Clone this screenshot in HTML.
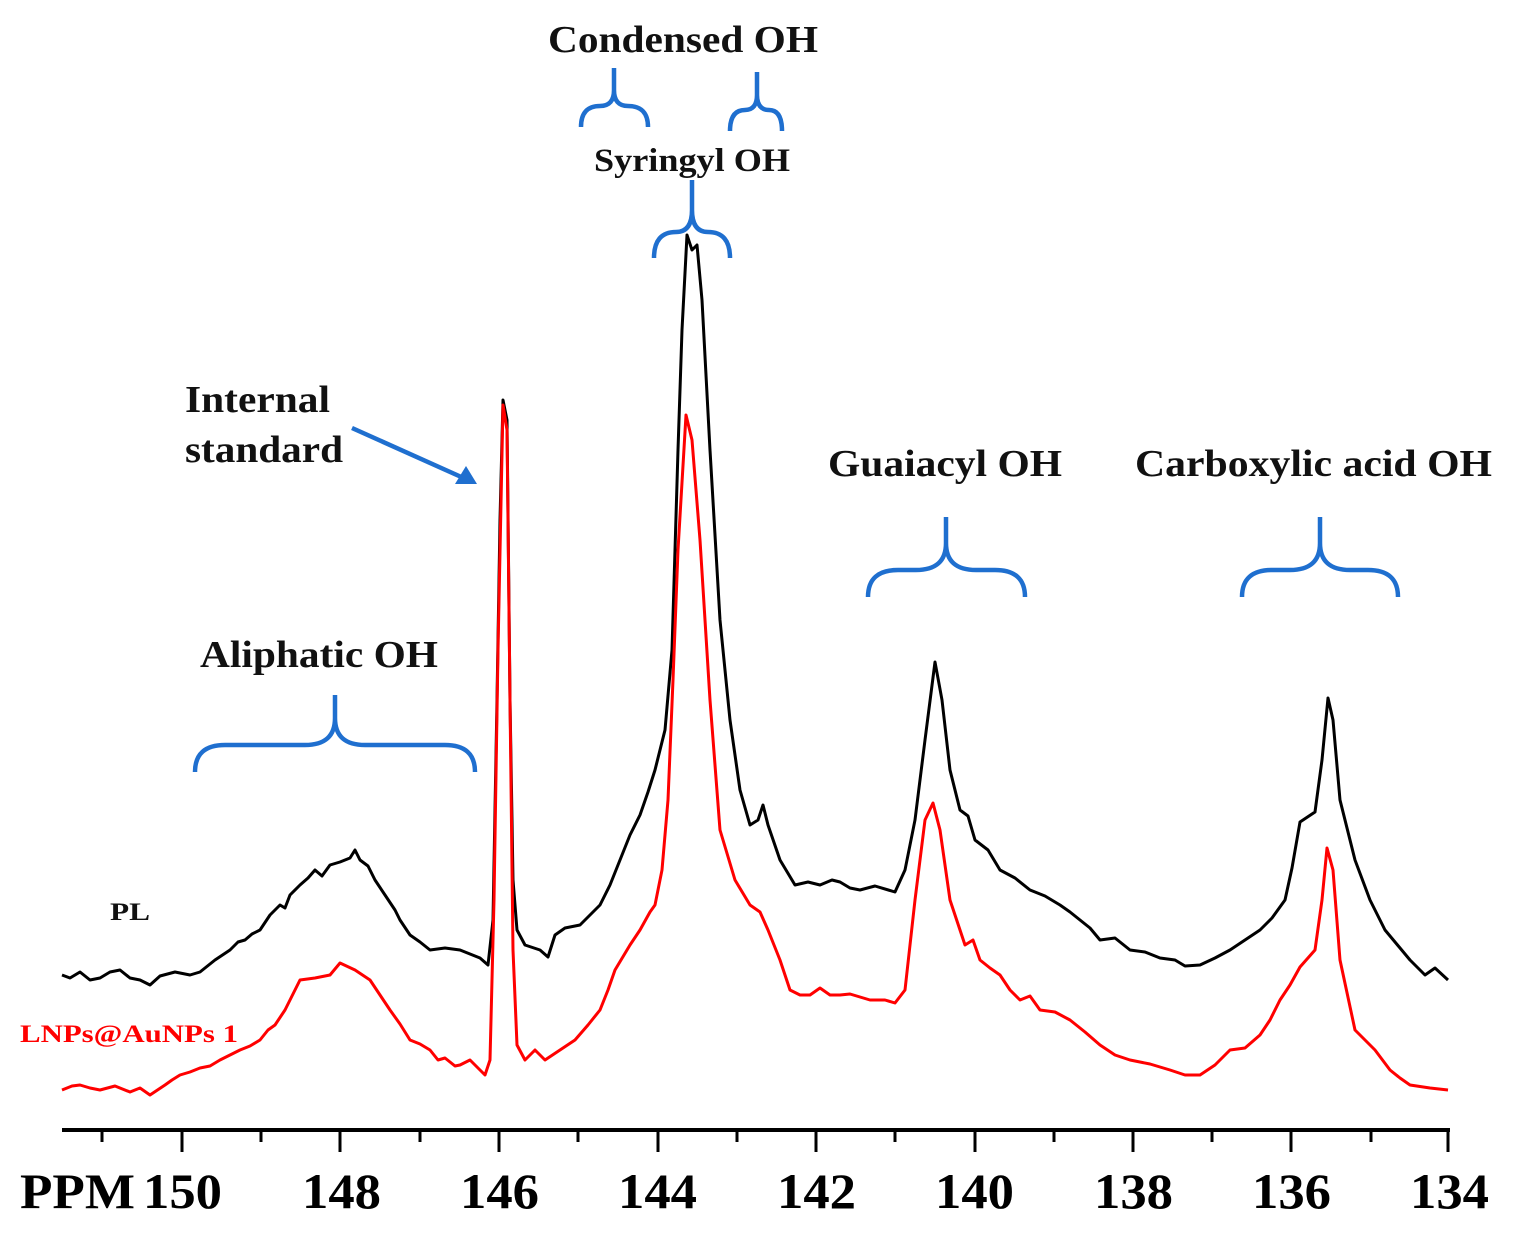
<!DOCTYPE html>
<html><head><meta charset="utf-8"><style>body{margin:0;background:#fff}svg{display:block}</style></head><body>
<svg width="1525" height="1240" viewBox="0 0 1525 1240" xmlns="http://www.w3.org/2000/svg" font-family="Liberation Serif, serif" font-weight="bold">
<g fill="none" stroke-linejoin="round">
<polyline stroke="#000" stroke-width="3" points="62,975 70,978 80,972 90,980 100,978 110,972 120,970 130,978 140,980 150,985 160,976 175,972 190,975 200,972 215,960 230,950 238,942 245,940 252,934 260,930 270,915 280,905 285,908 290,895 300,885 308,878 315,870 322,876 330,865 340,862 350,858 355,850 360,860 368,866 375,880 385,895 395,910 400,920 410,935 420,942 430,950 445,948 460,950 470,954 480,958 488,965 493,920 497,700 500,520 503,400 507,420 510,700 513,880 517,930 525,945 540,950 548,957 555,935 565,928 580,925 590,915 600,905 610,885 620,860 630,835 640,815 648,792 655,770 665,730 672,650 678,450 682,330 687,235 692,250 697,245 702,300 710,450 720,620 730,720 740,790 750,825 758,820 763,805 768,825 780,860 795,885 808,882 820,885 832,880 840,882 850,888 860,890 875,886 895,892 905,870 915,820 925,740 935,662 942,700 950,770 960,810 968,816 975,840 988,850 1000,870 1015,878 1030,890 1045,896 1060,905 1070,912 1080,920 1090,928 1100,940 1115,938 1130,950 1145,952 1160,958 1175,960 1185,966 1200,965 1215,958 1230,950 1245,940 1260,930 1272,918 1285,900 1292,868 1300,822 1315,812 1322,760 1328,698 1333,720 1340,800 1355,860 1370,900 1385,930 1395,942 1410,960 1425,975 1435,968 1448,980"/>
<polyline stroke="#f00" stroke-width="3" points="62,1090 72,1086 80,1085 90,1088 100,1090 115,1086 130,1092 140,1088 150,1095 165,1085 172,1080 180,1075 190,1072 200,1068 210,1066 220,1060 240,1050 250,1046 260,1040 268,1030 275,1025 285,1010 300,980 315,978 330,975 340,963 355,970 370,980 380,995 390,1010 400,1024 410,1040 420,1044 430,1050 438,1060 445,1058 455,1066 460,1065 470,1060 485,1075 490,1060 494,900 498,650 503,405 507,430 510,700 513,950 517,1045 525,1060 535,1050 545,1060 560,1050 575,1040 588,1025 600,1010 608,990 615,970 630,945 640,930 650,912 655,905 662,870 668,800 673,680 678,550 686,415 692,440 700,540 710,700 720,830 735,880 750,905 760,912 768,930 780,960 790,990 800,995 810,995 820,988 830,995 840,995 850,994 870,1000 885,1000 895,1003 905,990 915,900 925,820 933,803 940,830 950,900 965,945 973,940 980,960 990,968 1000,975 1010,990 1020,1000 1030,996 1040,1010 1055,1012 1070,1020 1085,1032 1100,1045 1115,1055 1130,1060 1150,1064 1170,1070 1185,1075 1200,1075 1215,1065 1230,1050 1245,1048 1260,1035 1270,1020 1280,1000 1290,985 1300,967 1315,950 1322,900 1327,848 1333,870 1340,960 1355,1030 1375,1050 1390,1070 1400,1078 1410,1085 1430,1088 1448,1090"/>
<g stroke="#1f6fcf" stroke-width="4.5">
<path d="M195,772 Q195,745 225,745 L305,745 Q335,745 335,718 L335,695 M335,718 Q335,745 365,745 L445,745 Q475,745 475,772"/>
<path d="M868,597 Q868,570 898,570 L916,570 Q946,570 946,543 L946,517 M946,543 Q946,570 976,570 L995,570 Q1025,570 1025,597"/>
<path d="M1242,597 Q1242,570 1272,570 L1290,570 Q1320,570 1320,543 L1320,517 M1320,543 Q1320,570 1350,570 L1368,570 Q1398,570 1398,597"/>
<path d="M654,258 Q654,232 676,232 Q692,232 692,210 L692,180 M692,210 Q692,232 708,232 Q730,232 730,258"/>
<path d="M581,127 Q581,106 600,106 Q614,106 614,90 L614,68 M614,90 Q614,106 628,106 Q648,106 648,127"/>
<path d="M730,131 Q730,110 745,110 Q757,110 757,95 L757,72 M757,95 Q757,110 769,110 Q782,110 782,131"/>
<path d="M352,428 L468,480"/>
</g>
<polygon fill="#1f6fcf" points="477,484 455,484 466,466"/>
<line x1="62" y1="1130" x2="1450" y2="1130" stroke="#000" stroke-width="4"/>
</g>
<g stroke="#000" stroke-width="3">
<path d="M102,1130v12M182,1130v22M261,1130v12M340,1130v22M420,1130v12M499,1130v22M578,1130v12M658,1130v22M737,1130v12M816,1130v22M895,1130v12M975,1130v22M1054,1130v12M1133,1130v22M1212,1130v12M1291,1130v22M1371,1130v12M1448,1130v22"/>
</g>
<g font-size="50" fill="#000" lengthAdjust="spacingAndGlyphs">
<text x="20" y="1208" textLength="115" lengthAdjust="spacingAndGlyphs">PPM</text>
<text x="143" y="1208" textLength="79" lengthAdjust="spacingAndGlyphs">150</text>
<text x="302" y="1208" textLength="79" lengthAdjust="spacingAndGlyphs">148</text>
<text x="460" y="1208" textLength="79" lengthAdjust="spacingAndGlyphs">146</text>
<text x="618" y="1208" textLength="79" lengthAdjust="spacingAndGlyphs">144</text>
<text x="777" y="1208" textLength="79" lengthAdjust="spacingAndGlyphs">142</text>
<text x="935" y="1208" textLength="79" lengthAdjust="spacingAndGlyphs">140</text>
<text x="1094" y="1208" textLength="79" lengthAdjust="spacingAndGlyphs">138</text>
<text x="1252" y="1208" textLength="79" lengthAdjust="spacingAndGlyphs">136</text>
<text x="1410" y="1208" textLength="79" lengthAdjust="spacingAndGlyphs">134</text>
</g>
<g font-size="38" fill="#111">
<text x="548" y="52" textLength="270" lengthAdjust="spacingAndGlyphs">Condensed OH</text>
<text x="594" y="171" font-size="33" textLength="196" lengthAdjust="spacingAndGlyphs">Syringyl OH</text>
<text x="185" y="412" textLength="145" lengthAdjust="spacingAndGlyphs">Internal</text>
<text x="185" y="462" textLength="158" lengthAdjust="spacingAndGlyphs">standard</text>
<text x="828" y="476" textLength="234" lengthAdjust="spacingAndGlyphs">Guaiacyl OH</text>
<text x="1135" y="476" textLength="357" lengthAdjust="spacingAndGlyphs">Carboxylic acid OH</text>
<text x="200" y="667" textLength="238" lengthAdjust="spacingAndGlyphs">Aliphatic OH</text>
<text x="110" y="920" font-size="25" textLength="40" lengthAdjust="spacingAndGlyphs">PL</text>
<text x="20" y="1042" font-size="25" fill="#f00" textLength="218" lengthAdjust="spacingAndGlyphs">LNPs@AuNPs 1</text>
</g>
</svg>
</body></html>
